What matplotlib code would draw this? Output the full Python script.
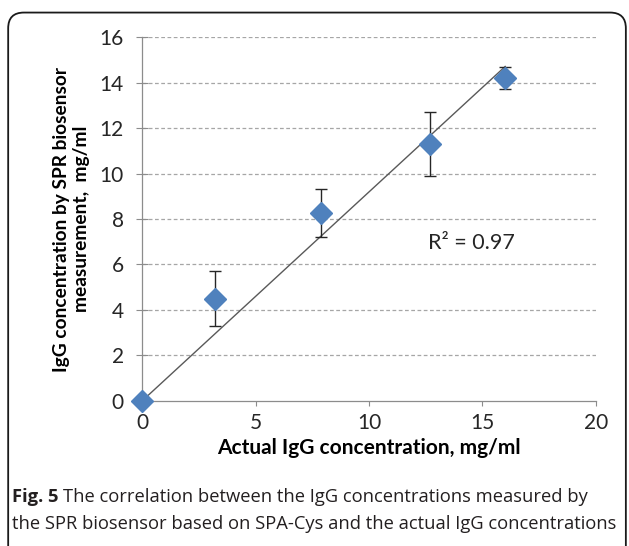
import matplotlib
matplotlib.use("Agg")
import matplotlib.pyplot as plt
from matplotlib.patches import FancyBboxPatch
import numpy as np

plt.rcParams['font.family'] = ['Lato', 'DejaVu Sans']

# Actual vs measured IgG concentration (mg/ml)
actual = [0, 3.2, 7.9, 12.7, 16.0]
measured = [0, 4.5, 8.25, 11.3, 14.2]
err = [0, 1.2, 1.05, 1.4, 0.5]
r2_text = "R² = 0.97"
x_ticks = [0, 5, 10, 15, 20]
y_ticks = [0, 2, 4, 6, 8, 10, 12, 14, 16]

fig = plt.figure(figsize=(6.29, 5.46), dpi=100)
ax = fig.add_axes([0.2258, 0.2656, 0.7217, 0.6666])

# frame round the figure
frame = FancyBboxPatch((0.013, -0.05), 0.982, 1.027, boxstyle="round,pad=0,rounding_size=0.025",
                       transform=fig.transFigure, fill=False, edgecolor="#1a1a1a", linewidth=1.3,
                       mutation_aspect=629 / 546)
fig.patches.append(frame)

for y in y_ticks[1:]:
    ax.axhline(y, color="#a6a6a6", linestyle=(0, (3, 2)), linewidth=0.9, zorder=0)

# trendline through the origin
xs = np.array(actual)
ys = np.array(measured)
slope = np.sum(xs * ys) / np.sum(xs * xs)
ax.plot([0, xs.max()], [0, slope * xs.max()], color="#595959", linewidth=1.0, zorder=2)

ax.errorbar(actual, measured, yerr=err, fmt="none", ecolor="#262626", elinewidth=1.0,
            capsize=4, capthick=1.0, zorder=3)
ax.plot(actual, measured, linestyle="none", marker="D", markersize=11,
        markerfacecolor="#4f81bd", markeredgecolor="#4f81bd", zorder=4, clip_on=False)

ax.text(12.6, 6.95, r2_text, fontsize=15.5, color="#262626", va="center", ha="left")

ax.set_xlim(0, 20)
ax.set_ylim(0, 16)
ax.set_xticks(x_ticks)
ax.set_yticks(y_ticks)
ax.tick_params(axis="both", labelsize=15, colors="#262626", width=0.8, color="#8c8c8c")
ax.tick_params(axis="x", direction="out", length=3.6, pad=5)
ax.tick_params(axis="y", direction="inout", length=8, pad=9)
for s in ["top", "right"]:
    ax.spines[s].set_visible(False)
for s in ["left", "bottom"]:
    ax.spines[s].set_color("#8c8c8c")
    ax.spines[s].set_linewidth(0.9)

ax.set_xlabel("Actual IgG concentration, mg/ml", fontsize=15, fontweight="bold")
ax.xaxis.set_label_coords(0.5, -0.102)
ax.set_ylabel("IgG concentration by SPR biosensor\nmeasurement,  mg/ml", fontsize=13.8,
              fontweight="bold", linespacing=1.25)
ax.yaxis.set_label_coords(-0.114, 0.5)

cap_font = ["Open Sans", "DejaVu Sans"]
fig.text(0.019, 0.09, "Fig. 5", fontsize=13.2, fontweight="bold", family=cap_font,
         color="#231f20", va="center")
fig.text(0.1, 0.09, "The correlation between the IgG concentrations measured by",
         fontsize=13.2, family=cap_font, color="#231f20", va="center")
fig.text(0.019, 0.041, "the SPR biosensor based on SPA-Cys and the actual IgG concentrations",
         fontsize=13.2, family=cap_font, color="#231f20", va="center")

fig.savefig("out.png", dpi=100)
